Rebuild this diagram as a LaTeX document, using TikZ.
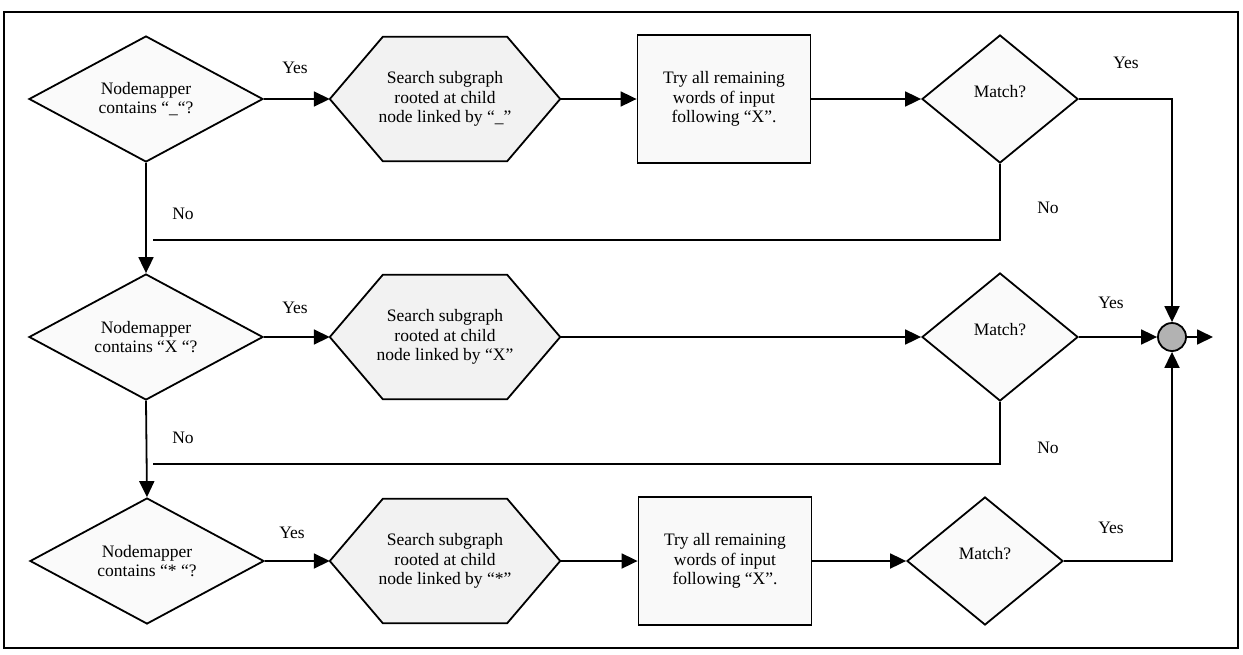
\documentclass[tikz,border=0pt]{standalone}
\usepackage{fontspec}
\setmainfont{Liberation Serif}
\usetikzlibrary{shapes.geometric,arrows.meta}
\pgfdeclarelayer{background}
\pgfsetlayers{background,main}

\begin{document}
\begin{tikzpicture}[x=1pt,y=-1pt,
  every node/.style={font=\fontsize{17.5}{19.5}\selectfont},
  flow/.style={line width=1.8pt},
  arr/.style={flow,-{Triangle[length=16pt,width=15pt]}},
  decision/.style={diamond,draw,line width=1.8pt,fill=gray!4,inner sep=0pt,
    aspect=1.86,minimum width=234pt,minimum height=126pt,align=center},
  match/.style={diamond,draw,line width=1.8pt,fill=gray!4,inner sep=0pt,
    minimum width=156pt,minimum height=128pt,align=center},
  hexcore/.style={minimum width=230pt,minimum height=124pt,inner sep=0pt,align=center},
  hexline/.style={draw,line width=1.8pt,fill=gray!10,line join=miter},
  trybox/.style={rectangle,draw,line width=1.8pt,fill=gray!5,
    minimum width=173pt,minimum height=128pt,align=center,inner sep=0pt},
  lbl/.style={inner sep=0pt}
]
\useasboundingbox (0,0) rectangle (1243,654);
\draw[line width=1.5pt] (4,12) rectangle (1238,648);

% decisions on the node mapper
\node[decision] (d1) at (146,99) {Nodemapper\\contains “\_“?};
\node[decision] (d2) at (146,337) {Nodemapper\\contains “X “?};
\node[decision] (d3) at (147,561) {Nodemapper\\contains “* “?};

% subgraph searches (hexagons)
\node[hexcore] (h1) at (445,99) {Search subgraph\\rooted at child\\node linked by “\_”};
\node[hexcore] (h2) at (445,337) {Search subgraph\\rooted at child\\node linked by “X”};
\node[hexcore] (h3) at (445,561) {Search subgraph\\rooted at child\\node linked by “*”};
\begin{pgfonlayer}{background}
\foreach \h in {h1,h2,h3}{
  \filldraw[hexline] (\h.west) -- ([xshift=53pt]\h.north west) -- ([xshift=-53pt]\h.north east)
    -- (\h.east) -- ([xshift=-53pt]\h.south east) -- ([xshift=53pt]\h.south west) -- cycle;
}
\end{pgfonlayer}

% remaining-words boxes
\node[trybox] (t1) at (724,99) {Try all remaining\\words of input\\following “X”.};
\node[trybox] (t3) at (725,561) {Try all remaining\\words of input\\following “X”.};

% match tests
\node[match] (m1) at (1000,99) {\raisebox{16pt}{Match?}};
\node[match] (m2) at (1000,337) {\raisebox{16pt}{Match?}};
\node[match] (m3) at (985,561) {\raisebox{16pt}{Match?}};

% join point and exit
\node[circle,draw,fill=gray!60,line width=1.8pt,minimum size=28pt,inner sep=0pt] (join) at (1172,337) {};
\coordinate (out) at (1213,337);
\coordinate (no1) at (153,240);
\coordinate (no2) at (153,464);

% connectors
\draw[arr] (d1.east) -- (h1.west);
\draw[arr] (h1.east) -- (t1.west);
\draw[arr] (t1.east) -- (m1.west);
\draw[arr] (m1.east) -| (join.north);
\draw[flow] (m1.south) |- (no1);
\draw[arr] (d1.south) -- (d2.north);

\draw[arr] (d2.east) -- (h2.west);
\draw[arr] (h2.east) -- (m2.west);
\draw[arr] (m2.east) -- (join.west);
\draw[flow] (m2.south) |- (no2);
\draw[arr] (d2.south) -- (d3.north);

\draw[arr] (d3.east) -- (h3.west);
\draw[arr] (h3.east) -- (t3.west);
\draw[arr] (t3.east) -- (m3.west);
\draw[arr] (m3.east) -| (join.south);

\draw[arr] (join.east) -- (out);

% branch labels
\node[lbl] (y1) at (295,68) {Yes};
\node[lbl] (y2) at (1126,63) {Yes};
\node[lbl] (y3) at (295,308) {Yes};
\node[lbl] (y4) at (1111,303) {Yes};
\node[lbl] (y5) at (292,533) {Yes};
\node[lbl] (y6) at (1111,528) {Yes};
\node[lbl] (n1) at (183,214) {No};
\node[lbl] (n2) at (1048,208) {No};
\node[lbl] (n3) at (183,438) {No};
\node[lbl] (n4) at (1048,448) {No};
\end{tikzpicture}
\end{document}
